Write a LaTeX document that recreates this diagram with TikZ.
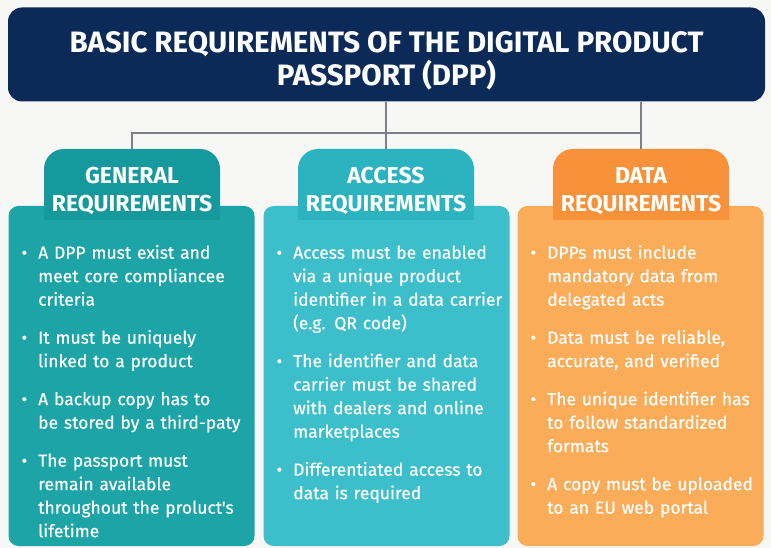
\documentclass[tikz,border=0pt]{standalone}
\usepackage{fontspec}
\setmainfont{Fira Sans}
\newfontfamily\itemfont[FakeBold=0.4]{Fira Sans}
\usetikzlibrary{positioning}

\definecolor{pagebg}{HTML}{F7F7F5}
\definecolor{navy}{HTML}{0C2A57}
\definecolor{linkgray}{HTML}{7D808A}
\definecolor{genpanelc}{HTML}{1CA4A7}
\definecolor{gentabc}{HTML}{16999C}
\definecolor{accpanelc}{HTML}{3DBFCB}
\definecolor{acctabc}{HTML}{2BB3C0}
\definecolor{datpanelc}{HTML}{FAAC58}
\definecolor{dattabc}{HTML}{F7923A}

\newenvironment{reqlist}{\begin{list}{\textbullet}{%
  \setlength\leftmargin{22pt}\setlength\labelsep{11pt}\setlength\labelwidth{11pt}%
  \setlength\itemsep{14.5pt}\setlength\parsep{0pt}%
  \setlength\topsep{0pt}\setlength\partopsep{0pt}}}{\end{list}}

\tikzset{
  titlebox/.style={fill=navy, rounded corners=14, minimum width=757, minimum height=94},
  titletext/.style={text=white, align=center, inner sep=0, font=\fontsize{29.5}{33}\selectfont\bfseries},
  panel/.style={rounded corners=10, minimum width=246, minimum height=340, inner sep=0},
  tabbox/.style={rounded corners=20, minimum width=176, minimum height=71, inner sep=0},
  tabtext/.style={text=white, align=center, inner sep=0, font=\fontsize{23}{28}\selectfont\bfseries},
  itemtext/.style={text=white, anchor=north west, inner sep=0, text width=232, align=left,
    font=\fontsize{17.5}{23.5}\selectfont\itemfont},
  link/.style={draw=linkgray, line width=1.5}
}

\begin{document}
\begin{tikzpicture}[x=1pt,y=-1pt]
  \useasboundingbox[fill=pagebg] (0,0) rectangle (771,548);
  % header
  \node[titlebox] (title) at (386.5,54.5) {};
  \node[titletext] (titletxt) at (386.5,61) {BASIC REQUIREMENTS OF THE DIGITAL PRODUCT\\PASSPORT (DPP)};
  % panels
  \node[panel, fill=genpanelc] (genpanel) at (131.5,376) {};
  \node[panel, fill=accpanelc] (accpanel) at (386.5,376) {};
  \node[panel, fill=datpanelc] (datpanel) at (640.5,376) {};
  % tabs
  \node[tabbox, fill=gentabc] (gentab) at (132,184.5) {};
  \fill[gentabc] (gentab.west) rectangle (gentab.south east);
  \node[tabbox, fill=acctabc] (acctab) at (386,184.5) {};
  \fill[acctabc] (acctab.west) rectangle (acctab.south east);
  \node[tabbox, fill=dattabc] (dattab) at (641,184.5) {};
  \fill[dattabc] (dattab.west) rectangle (dattab.south east);
  \node[tabtext] (genhead) at (132,191) {GENERAL\\REQUIREMENTS};
  \node[tabtext] (acchead) at (386,191) {ACCESS\\REQUIREMENTS};
  \node[tabtext] (dathead) at (641,191) {DATA\\REQUIREMENTS};
  % connectors
  \draw[link] (title.south -| acctab.north) -- (acctab.north);
  \draw[link] (title.south -| dattab.north) -- (dattab.north);
  \draw[link] (gentab.north) -- ++(0,-16) -| (dattab.north);
  % lists
  \node[itemtext] (genlist) at (16,235) {\begin{reqlist}
    \item A DPP must exist and\newline meet core compliancee\newline criteria
    \item It must be uniquely\newline linked to a product
    \item A backup copy has to\newline be stored by a third-paty
    \item The passport must\newline remain available\newline throughout the proluct's\newline lifetime
  \end{reqlist}};
  \node[itemtext] (acclist) at (271,235) {\begin{reqlist}
    \item Access must be enabled\newline via a unique product\newline identifier in a data carrier\newline (e.g. QR code)
    \item The identifier and data\newline carrier must be shared\newline with dealers and online\newline marketplaces
    \item Differentiated access to\newline data is required
  \end{reqlist}};
  \node[itemtext] (datlist) at (525,235) {\begin{reqlist}
    \item DPPs must include\newline mandatory data from\newline delegated acts
    \item Data must be reliable,\newline accurate, and verified
    \item The unique identifier has\newline to follow standardized\newline formats
    \item A copy must be uploaded\newline to an EU web portal
  \end{reqlist}};
\end{tikzpicture}
\end{document}
